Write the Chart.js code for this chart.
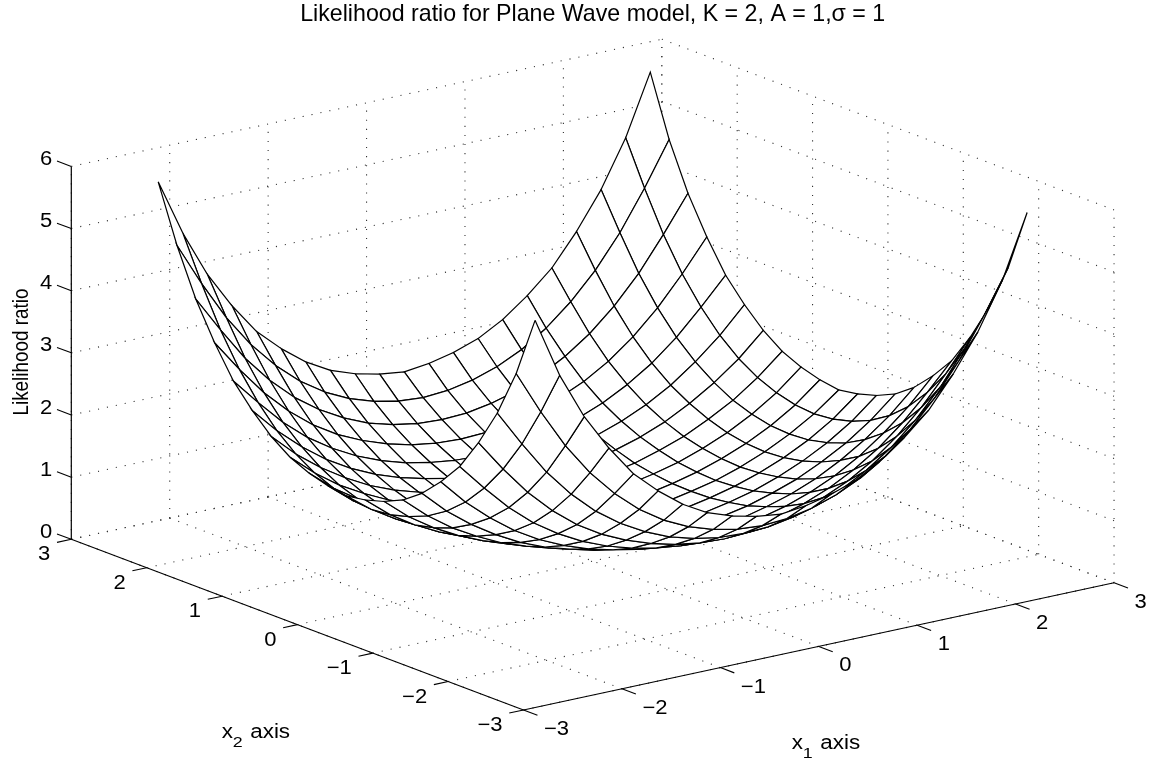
<!DOCTYPE html>
<html>
<head>
<meta charset="utf-8">
<title>Likelihood ratio</title>
<script src="https://cdn.jsdelivr.net/npm/chart.js@4"></script>
<style>
  html, body { margin: 0; background: #fff; }
  canvas { display: block; }
</style>
</head>
<body>
<canvas id="surfaceChart" width="1151" height="761"></canvas>
<script>
const x1Grid = [-2.5,-2.25,-2,-1.75,-1.5,-1.25,-1,-0.75,-0.5,-0.25,0,0.25,0.5,0.75,1,1.25,1.5,1.75,2,2.25,2.5];
const x2Grid = [-2.5,-2.25,-2,-1.75,-1.5,-1.25,-1,-0.75,-0.5,-0.25,0,0.25,0.5,0.75,1,1.25,1.5,1.75,2,2.25,2.5];

// one row per x2Grid value, one column per x1Grid value
const ratio = [
  [5.87,4.90,4.15,3.56,3.06,2.70,2.40,2.18,2.04,1.95,1.90,1.95,2.04,2.18,2.40,2.70,3.06,3.56,4.15,4.90,5.90],
  [4.90,4.20,3.57,3.05,2.63,2.29,2.03,1.84,1.71,1.63,1.60,1.63,1.71,1.84,2.03,2.29,2.63,3.05,3.57,4.20,4.90],
  [4.15,3.57,3.03,2.59,2.23,1.95,1.73,1.56,1.45,1.38,1.36,1.38,1.45,1.56,1.73,1.95,2.23,2.59,3.03,3.57,4.15],
  [3.56,3.05,2.59,2.21,1.90,1.66,1.48,1.34,1.24,1.18,1.16,1.18,1.24,1.34,1.48,1.66,1.90,2.21,2.59,3.05,3.56],
  [3.06,2.63,2.23,1.90,1.64,1.43,1.27,1.15,1.07,1.02,1.00,1.02,1.07,1.15,1.27,1.43,1.64,1.90,2.23,2.63,3.06],
  [2.70,2.29,1.95,1.66,1.43,1.25,1.11,1.01,0.93,0.89,0.87,0.89,0.93,1.01,1.11,1.25,1.43,1.66,1.95,2.29,2.70],
  [2.40,2.03,1.73,1.48,1.27,1.11,0.99,0.89,0.83,0.79,0.78,0.79,0.83,0.89,0.99,1.11,1.27,1.48,1.73,2.03,2.40],
  [2.18,1.84,1.56,1.34,1.15,1.01,0.89,0.81,0.75,0.71,0.70,0.71,0.75,0.81,0.89,1.01,1.15,1.34,1.56,1.84,2.18],
  [2.04,1.71,1.45,1.24,1.07,0.93,0.83,0.75,0.69,0.66,0.65,0.66,0.69,0.75,0.83,0.93,1.07,1.24,1.45,1.71,2.04],
  [1.95,1.63,1.38,1.18,1.02,0.89,0.79,0.71,0.66,0.63,0.62,0.63,0.66,0.71,0.79,0.89,1.02,1.18,1.38,1.63,1.95],
  [1.90,1.60,1.36,1.16,1.00,0.87,0.78,0.70,0.65,0.62,0.61,0.62,0.65,0.70,0.78,0.87,1.00,1.16,1.36,1.60,1.90],
  [1.95,1.63,1.38,1.18,1.02,0.89,0.79,0.71,0.66,0.63,0.62,0.63,0.66,0.71,0.79,0.89,1.02,1.18,1.38,1.63,1.95],
  [2.04,1.71,1.45,1.24,1.07,0.93,0.83,0.75,0.69,0.66,0.65,0.66,0.69,0.75,0.83,0.93,1.07,1.24,1.45,1.71,2.04],
  [2.18,1.84,1.56,1.34,1.15,1.01,0.89,0.81,0.75,0.71,0.70,0.71,0.75,0.81,0.89,1.01,1.15,1.34,1.56,1.84,2.18],
  [2.40,2.03,1.73,1.48,1.27,1.11,0.99,0.89,0.83,0.79,0.78,0.79,0.83,0.89,0.99,1.11,1.27,1.48,1.73,2.03,2.40],
  [2.70,2.29,1.95,1.66,1.43,1.25,1.11,1.01,0.93,0.89,0.87,0.89,0.93,1.01,1.11,1.25,1.43,1.66,1.95,2.29,2.70],
  [3.06,2.63,2.23,1.90,1.64,1.43,1.27,1.15,1.07,1.02,1.00,1.02,1.07,1.15,1.27,1.43,1.64,1.90,2.23,2.63,3.06],
  [3.56,3.05,2.59,2.21,1.90,1.66,1.48,1.34,1.24,1.18,1.16,1.18,1.24,1.34,1.48,1.66,1.90,2.21,2.59,3.05,3.56],
  [4.15,3.57,3.03,2.59,2.23,1.95,1.73,1.56,1.45,1.38,1.36,1.38,1.45,1.56,1.73,1.95,2.23,2.59,3.03,3.57,4.15],
  [4.90,4.20,3.57,3.05,2.63,2.29,2.03,1.84,1.71,1.63,1.60,1.63,1.71,1.84,2.03,2.29,2.63,3.05,3.57,4.20,4.90],
  [5.81,4.90,4.15,3.56,3.06,2.70,2.40,2.18,2.04,1.95,1.90,1.95,2.04,2.18,2.40,2.70,3.06,3.56,4.15,4.90,5.87]
];

const x1Ticks = [-3,-2,-1,0,1,2,3];
const x2Ticks = [-3,-2,-1,0,1,2,3];
const zTicks = [0,1,2,3,4,5,6];

const titleText = "Likelihood ratio for Plane Wave model, K = 2, A = 1,\u03c3 = 1";
const fontName = '"Liberation Sans", Arial, sans-serif';

// fixed view of the box: where (x1, x2, z) lands on the flat x/y plane of the chart
function project(x1, x2, z) {
  return {
    x: 592.67 + 98.42 * x1 - 75.37 * x2,
    y: 561.05 - 21.2 * x1 - 28.45 * x2 - 62.15 * z
  };
}

function lineSet(points, color, width, dash) {
  return {
    data: points,
    borderColor: color,
    borderWidth: width,
    borderDash: dash || [],
    pointRadius: 0,
    tension: 0,
    fill: false,
    clip: false
  };
}

const datasets = [];

// surface cells, nearest to the viewer first: chart.js paints the list from the end
const cells = [];
for (let i = 0; i < x2Grid.length - 1; i++) {
  for (let j = 0; j < x1Grid.length - 1; j++) {
    cells.push({ i, j, depth: 0.61 * (x1Grid[j] + x1Grid[j + 1]) + 0.79 * (x2Grid[i] + x2Grid[i + 1]) });
  }
}
cells.sort((a, b) => a.depth - b.depth);
cells.forEach(({ i, j }) => {
  const corners = [[i, j], [i, j + 1], [i + 1, j + 1], [i + 1, j], [i, j]];
  const set = lineSet(corners.map(([r, c]) => project(x1Grid[c], x2Grid[r], ratio[r][c])), "#000", 1.2);
  set.fill = "shape";
  set.backgroundColor = "#fff";
  datasets.push(set);
});

// solid axes and their tick marks
const x1Min = x1Ticks[0], x1Max = x1Ticks[x1Ticks.length - 1];
const x2Min = x2Ticks[0], x2Max = x2Ticks[x2Ticks.length - 1];
const zMin = zTicks[0], zMax = zTicks[zTicks.length - 1];

datasets.push(lineSet([project(x1Min, x2Max, zMin), project(x1Min, x2Max, zMax)], "#000", 1.2));
datasets.push(lineSet([project(x1Min, x2Max, zMin), project(x1Min, x2Min, zMin)], "#000", 1.1));
datasets.push(lineSet([project(x1Min, x2Min, zMin), project(x1Max, x2Min, zMin)], "#000", 1.1));
zTicks.forEach(t => datasets.push(lineSet([project(x1Min, x2Max, t), project(x1Min, x2Max + 0.19, t)], "#000", 1.1)));
x2Ticks.forEach(t => datasets.push(lineSet([project(x1Min, t, zMin), project(x1Min - 0.145, t, zMin)], "#000", 1.1)));
x1Ticks.forEach(t => datasets.push(lineSet([project(t, x2Min, zMin), project(t, x2Min - 0.185, zMin)], "#000", 1.1)));

// dotted grid on the two back walls and on the floor
const gridDash = [1.1, 8];
const gridColor = "#333";
x1Ticks.forEach(t => {
  datasets.push(lineSet([project(t, x2Min, zMin), project(t, x2Max, zMin)], gridColor, 1.1, gridDash));
  datasets.push(lineSet([project(t, x2Max, zMin), project(t, x2Max, zMax)], gridColor, 1.1, gridDash));
});
x2Ticks.forEach(t => {
  datasets.push(lineSet([project(x1Min, t, zMin), project(x1Max, t, zMin)], gridColor, 1.1, gridDash));
  datasets.push(lineSet([project(x1Max, t, zMin), project(x1Max, t, zMax)], gridColor, 1.1, gridDash));
});
zTicks.forEach(t => {
  datasets.push(lineSet([project(x1Min, x2Max, t), project(x1Max, x2Max, t)], gridColor, 1.1, gridDash));
  datasets.push(lineSet([project(x1Max, x2Max, t), project(x1Max, x2Min, t)], gridColor, 1.1, gridDash));
});

function tickText(v) {
  return v < 0 ? "\u2212" + Math.abs(v) : String(v);
}

// the reference type is a little wider than it is tall, so text is widened with wide
function wideText(ctx, text, x, y, size, wide, align) {
  ctx.save();
  ctx.translate(x, y);
  ctx.scale(wide, 1);
  ctx.font = size + "px " + fontName;
  ctx.textAlign = align;
  ctx.textBaseline = "middle";
  ctx.fillText(text, 0, 0);
  ctx.restore();
}

// tick labels and axis names sit off the box, so they are placed here
const axisText = {
  id: "axisText",
  afterDraw(chart) {
    const { ctx, scales } = chart;
    const at = p => ({ x: scales.x.getPixelForValue(p.x), y: scales.y.getPixelForValue(p.y) });
    ctx.save();
    ctx.fillStyle = "#000";

    zTicks.forEach(t => {
      const p = at(project(x1Min, x2Max, t));
      wideText(ctx, tickText(t), p.x - 19, p.y - 7, 20, 1.1, "right");
    });
    x2Ticks.forEach(t => {
      const p = at(project(x1Min, t, zMin));
      wideText(ctx, tickText(t), p.x - 21, p.y + 15.5, 20, 1.1, "right");
    });
    x1Ticks.forEach(t => {
      const p = at(project(t, x2Min, zMin));
      wideText(ctx, tickText(t), p.x + 20.5, p.y + 19.5, 20, 1.1, "left");
    });

    // x1 / x2 axis names with a lowered index
    [["2", 221.7, 732.7], ["1", 791.8, 743.5]].forEach(([sub, x, y]) => {
      wideText(ctx, "x", x, y, 19.5, 1.15, "left");
      wideText(ctx, sub, x + 11, y + 10.3, 15.5, 1.15, "left");
      wideText(ctx, "axis", x + 28.5, y, 19.5, 1.15, "left");
    });

    ctx.translate(28.3, 352);
    ctx.rotate(-Math.PI / 2);
    ctx.scale(1, 1.15);
    ctx.textAlign = "center";
    ctx.textBaseline = "alphabetic";
    ctx.font = "18.9px " + fontName;
    ctx.fillText("Likelihood ratio", 0, 0);
    ctx.restore();
  }
};

new Chart(document.getElementById("surfaceChart"), {
  type: "line",
  data: { datasets },
  plugins: [axisText],
  options: {
    responsive: false,
    animation: false,
    parsing: { xAxisKey: "x", yAxisKey: "y" },
    layout: { padding: { left: 34.4, right: 0, top: 0, bottom: 0 } },
    plugins: {
      legend: { display: false },
      tooltip: { enabled: false },
      title: {
        display: true,
        text: titleText,
        fullSize: false,
        color: "#000",
        font: { family: fontName, size: 23.2, weight: "normal", lineHeight: 1.2 },
        padding: { top: 1, bottom: 0 }
      }
    },
    scales: {
      x: { type: "linear", display: false, min: 34.4, max: 1151 },
      y: { type: "linear", display: false, min: 28.84, max: 761, reverse: true }
    }
  }
});
</script>
</body>
</html>
